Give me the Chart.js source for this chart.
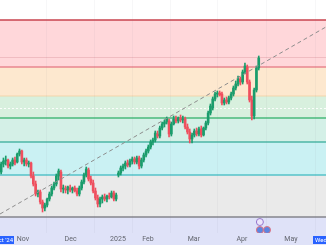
<!DOCTYPE html>
<html><head><meta charset="utf-8">
<script src="https://cdn.jsdelivr.net/npm/chart.js@4.4.1/dist/chart.umd.min.js"></script>
<style>html,body{margin:0;padding:0;background:#fff;overflow:hidden}#wrap{width:326px;height:245px}</style>
</head><body><div id="wrap"><canvas id="c" width="326" height="245"></canvas></div>
<script>
// ---- data (price units) ----
const openP  = [78,86,89,90,84,86,90,88,96,99,88,90,86,87,74,66,56,58,48,42,45,51,56,62,66,74,78,61,61,60,62,60,62,59,56,62,68,75,80,71,67,59,52,46,51,53,51,54,53,57,51,75,77,82,84,87,85,89,91,88,92,84,90,95,99,103,108,110,116,114,122,126,128,129,116,126,131,129,132,130,131,123,118,111,115,119,116,121,115,122,127,137,142,151,156,157,156,147,150,148,152,156,162,166,171,168,178,183,168,150,134,160,182];
const highP  = [88,92,94,91,88,92,93,97,101,100,92,92,89,88,78,69,60,60,50,47,52,58,64,68,76,81,80,65,64,64,65,63,64,62,64,70,77,83,82,74,70,62,55,53,55,56,55,57,59,59,57,79,84,86,89,90,91,93,93,94,94,92,97,101,105,110,112,119,119,124,128,130,133,131,128,134,134,133,135,134,133,126,121,117,121,122,123,124,123,129,139,146,153,158,159,159,158,152,153,154,158,164,169,174,173,180,187,185,170,154,162,184,194];
const lowP   = [76,83,85,82,81,84,85,87,94,86,84,84,83,72,64,54,53,46,38,39,43,49,54,60,64,70,58,57,57,56,58,57,58,54,54,60,66,73,69,65,57,50,43,43,47,49,48,51,52,49,49,73,75,79,81,83,83,86,86,86,81,82,88,93,97,101,105,108,112,112,120,123,126,113,114,125,127,127,128,127,121,116,107,107,113,114,114,113,114,120,125,135,140,149,153,154,145,145,146,146,150,154,160,164,165,166,176,166,148,130,131,158,180];
const closeP = [86,89,90,84,86,90,87,96,99,88,90,86,87,74,66,56,58,48,42,45,51,56,62,66,74,79,61,62,60,63,60,62,59,56,62,68,75,81,71,67,59,52,46,51,53,51,54,53,57,51,55,77,82,84,87,85,89,91,88,92,84,90,95,99,103,108,110,117,114,122,126,128,131,116,126,131,129,132,130,131,123,118,111,115,119,116,121,115,122,127,137,144,151,156,157,155,147,150,148,152,156,162,166,171,168,178,184,168,150,134,160,182,192];

// time axis (bar index positions of month starts)
const tickPos    = [9.5, 30.2, 50.8, 63.8, 83.8, 104.7, 126];
const tickLabels = ['Nov', 'Dec', '2025', 'Feb', 'Mar', 'Apr', 'May'];

// fibonacci-style levels (price)
const fibLevels   = [230, 183, 154, 132, 108, 75, 33];
const minorLevels = [193, 142];

// dashed trend line anchors
const trendX = [-0.5, 141.2];
const trendY = [36, 223];

// event markers
const divX = [112.5];  const divY = [28];
const earnX = [112.5, 115.6]; const earnY = [20, 20];

// ---- styles ----
const UP = '#1a9c6c', DOWN = '#ef4f5e';
const bandFills  = ['#ffd7da', '#fde8cf', '#d8f0de', '#d4f0e7', '#caf1f3', '#eaeaea', '#dfe2f8'];
const levelColors = ['#c9434e', '#e9868f', '#f2d5aa', '#6cc794', '#4db6a6', '#55c2c8', '#85858c'];
const levelWidths = [1.5, 1.5, 1, 2, 1.5, 1.5, 1.5];

const idx = openP.map((_, i) => i);
const colors = idx.map(i => closeP[i] >= openP[i] ? UP : DOWN);

const bandPlugin = {
  id: 'bands',
  beforeDraw(chart) {
    const { ctx, chartArea: a, scales: { y } } = chart;
    ctx.save();
    ctx.fillStyle = '#ffffff';
    ctx.fillRect(0, 0, chart.width, chart.height);
    for (let k = 0; k < bandFills.length; k++) {
      const y1 = y.getPixelForValue(fibLevels[k]);
      const y2 = k + 1 < fibLevels.length ? y.getPixelForValue(fibLevels[k + 1]) : chart.height;
      ctx.fillStyle = bandFills[k];
      ctx.fillRect(0, y1, chart.width, y2 - y1);
    }
    // minor lines
    ctx.lineWidth = 1;
    ctx.strokeStyle = 'rgba(230,170,176,0.6)';
    let py = Math.round(y.getPixelForValue(minorLevels[0])) + 0.5;
    ctx.beginPath(); ctx.moveTo(a.left, py); ctx.lineTo(a.right, py); ctx.stroke();
    ctx.strokeStyle = 'rgba(255,255,255,0.9)';
    ctx.setLineDash([2, 2]);
    py = Math.round(y.getPixelForValue(minorLevels[1])) + 0.5;
    ctx.beginPath(); ctx.moveTo(a.left, py); ctx.lineTo(a.right, py); ctx.stroke();
    ctx.setLineDash([]);
    // main level lines
    fibLevels.forEach((v, k) => {
      const p = y.getPixelForValue(v);
      ctx.strokeStyle = levelColors[k];
      ctx.lineWidth = levelWidths[k];
      ctx.beginPath(); ctx.moveTo(a.left, p); ctx.lineTo(a.right, p); ctx.stroke();
    });
    ctx.restore();
  },
  afterDraw(chart) {
    const { ctx } = chart;
    ctx.save();
    ctx.font = '6px Roboto, "Liberation Sans", sans-serif';
    ctx.textBaseline = 'middle';
    ctx.fillStyle = '#2962ff';
    ctx.fillRect(0, 236, 14, 8);
    ctx.fillRect(313, 236, 13, 8);
    ctx.fillStyle = '#ffffff';
    ctx.textAlign = 'right';
    ctx.fillText("Oct '24", 13, 240.5);
    ctx.textAlign = 'left';
    ctx.fillText('Wed 3', 315, 240.5);
    ctx.restore();
  }
};

new Chart(document.getElementById('c'), {
  type: 'bar',
  data: {
    datasets: [
      {
        type: 'line', data: trendX.map((x, i) => ({ x, y: trendY[i] })),
        borderColor: '#8d8d8d', borderWidth: 1, borderDash: [4, 3],
        pointRadius: 0, order: 0
      },
      {
        type: 'scatter', data: divX.map((x, i) => ({ x, y: divY[i] })),
        pointRadius: 3.5, borderWidth: 1, borderColor: '#9575cd', backgroundColor: '#ece6fb', order: 0
      },
      {
        type: 'scatter', data: earnX.map((x, i) => ({ x, y: earnY[i] })),
        pointRadius: 3.5, borderWidth: 1, borderColor: '#e57580', backgroundColor: '#5c85e0', order: 0
      },
      {
        data: idx.map(i => ({ x: i, y: [Math.min(openP[i], closeP[i]), Math.max(openP[i], closeP[i])] })),
        backgroundColor: colors, barThickness: 2, grouped: false, minBarLength: 1, order: 1
      },
      {
        data: idx.map(i => ({ x: i, y: [lowP[i], highP[i]] })),
        backgroundColor: colors, barThickness: 1, grouped: false, order: 2
      }
    ]
  },
  options: {
    responsive: false, animation: false, devicePixelRatio: 1,
    layout: { padding: 0, autoPadding: false },
    plugins: { legend: { display: false }, tooltip: { enabled: false } },
    scales: {
      x: {
        type: 'linear', min: -0.5, max: 141.24, offset: false,
        afterBuildTicks: s => { s.ticks = tickPos.map(v => ({ value: v })); },
        afterFit: s => {
          s.height = 12;
          s.paddingLeft = 0; s.paddingRight = 0; s.paddingTop = 0; s.paddingBottom = 0;
        },
        ticks: {
          autoSkip: false, maxRotation: 0, padding: 2,
          font: { size: 7, family: 'Roboto, "Liberation Sans", sans-serif' }, color: '#62656e',
          callback: (v, i) => tickLabels[i]
        },
        grid: { color: 'rgba(120,123,134,0.06)', drawTicks: false },
        border: { display: false }
      },
      y: { display: false, min: 17, max: 250 }
    }
  },
  plugins: [bandPlugin]
});
</script>
</body></html>
